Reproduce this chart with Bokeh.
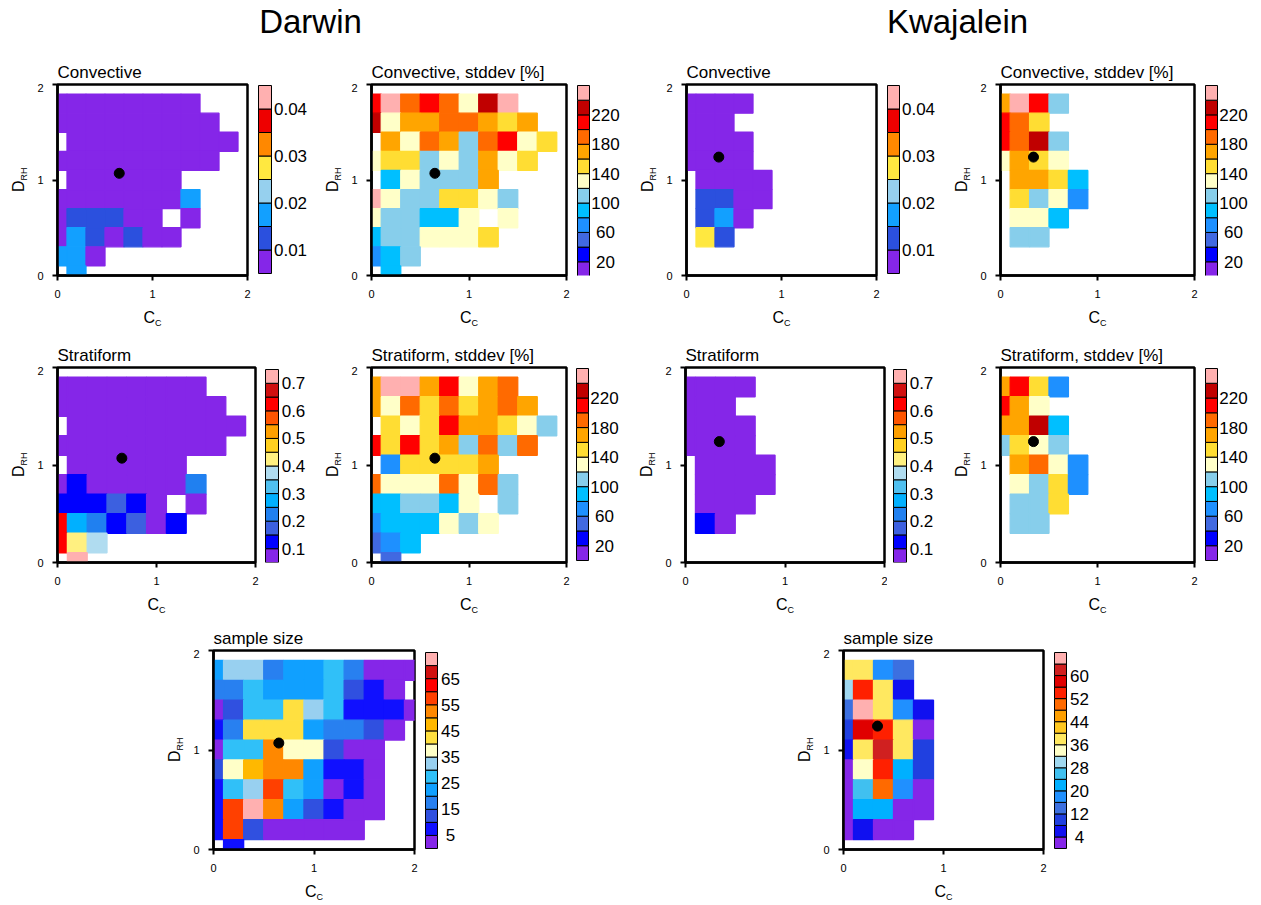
import numpy as np
from bokeh.plotting import figure
from bokeh.models import Range1d, FixedTicker
from bokeh.layouts import row, column
from bokeh.embed import file_html
from bokeh.resources import INLINE
from bokeh.core.properties import value

N = None
FONT = "Liberation Sans"
TOTAL_W = 1253

stations = ["Darwin", "Kwajalein"]
cc_centers = [0.0, 0.2, 0.4, 0.6, 0.8, 1.0, 1.2, 1.4, 1.6, 1.8, 2.0]
drh_centers = [1.8, 1.6, 1.4, 1.2, 1.0, 0.8, 0.6, 0.4, 0.2, 0.0]
axis_ticks = [0, 1, 2]

darwin_point = (0.65, 1.07)
kwaj_point = (0.34, 1.24)

# ---- contour levels / palettes / colorbar labels ----
conv_levels = [0.01, 0.015, 0.02, 0.025, 0.03, 0.035, 0.04]
conv_palette = ["#8526e8", "#2b50de", "#12a0ff", "#96d0ee", "#ffe840", "#ff8800", "#ee0000", "#ffb0b0"]
conv_tick_vals = [0.01, 0.02, 0.03, 0.04]
conv_tick_labels = ["0.01", "0.02", "0.03", "0.04"]

strat_levels = [0.1, 0.15, 0.2, 0.25, 0.3, 0.35, 0.4, 0.45, 0.5, 0.55, 0.6, 0.65, 0.7]
strat_palette = ["#8526e8", "#0000ff", "#3c60e0", "#2080f0", "#00b0ff", "#50c0f0", "#b0dcf0",
                 "#fff080", "#ffd020", "#ffa000", "#ff5500", "#ff0000", "#d01010", "#ffb0b0"]
strat_tick_vals = [0.1, 0.2, 0.3, 0.4, 0.5, 0.6, 0.7]
strat_tick_labels = ["0.1", "0.2", "0.3", "0.4", "0.5", "0.6", "0.7"]

sd_levels = [20, 40, 60, 80, 100, 120, 140, 160, 180, 200, 220, 240]
sd_palette = ["#8526e8", "#0000ff", "#4169e1", "#1e90ff", "#00bfff", "#87ceeb", "#ffffc8",
              "#ffdd33", "#ffa500", "#ff6a00", "#ff0000", "#c00000", "#ffb0b0"]
sd_tick_vals = [20, 60, 100, 140, 180, 220]
sd_tick_labels = ["20", "60", "100", "140", "180", "220"]

nd_levels = [5, 10, 15, 20, 25, 30, 35, 40, 45, 50, 55, 60, 65, 70]
nd_palette = ["#8526e8", "#1010ff", "#3050e0", "#2880f0", "#10a0ff", "#30c0f8", "#98d0f0", "#ffffc8",
              "#ffe040", "#ffb800", "#ff8800", "#ff4000", "#ff0000", "#d01010", "#ffb0b0"]
nd_tick_vals = [5, 15, 25, 35, 45, 55, 65]
nd_tick_labels = ["5", "15", "25", "35", "45", "55", "65"]

nk_levels = [4, 8, 12, 16, 20, 24, 28, 32, 36, 40, 44, 48, 52, 56, 60, 64]
nk_palette = ["#8526e8", "#1010f0", "#2040e0", "#3c70e0", "#2090ff", "#00b0ff", "#40c0f0", "#a0d8f0",
              "#ffffc8", "#ffe860", "#ffc820", "#ffa000", "#ff6a00", "#ff2000", "#e00000", "#d02020", "#ffb0b0"]
nk_tick_vals = [4, 12, 20, 28, 36, 44, 52, 60]
nk_tick_labels = ["4", "12", "20", "28", "36", "44", "52", "60"]

# ---- gridded values: rows D_RH = 1.8 ... 0.0, columns C_C = 0.0 ... 2.0 ----
darwin_conv = [
    [0.006, 0.005, 0.004, 0.004, 0.005, 0.005, 0.006, 0.007],
    [0.005, 0.004, 0.003, 0.003, 0.004, 0.004, 0.005, 0.006, 0.008],
    [N, 0.004, 0.003, 0.003, 0.003, 0.004, 0.005, 0.006, 0.007, 0.008],
    [0.006, 0.004, 0.003, 0.003, 0.003, 0.004, 0.005, 0.006, 0.008],
    [N, 0.005, 0.004, 0.004, 0.004, 0.005, 0.006],
    [0.007, 0.006, 0.005, 0.005, 0.006, 0.007, 0.008, 0.017],
    [0.008, 0.012, 0.011, 0.012, 0.008, 0.009, N, 0.009],
    [0.009, 0.017, 0.013, 0.009, 0.011, 0.009, 0.008],
    [0.016, 0.018, 0.009],
    [N, 0.019],
]
darwin_conv_sd = [
    [212, 246, 188, 207, 193, 131, 228, 251],
    [226, 128, 172, 168, 186, 191, 174, 152, 166],
    [N, 167, 133, 194, 171, 112, 187, 213, 127, 149],
    [136, 148, 153, 108, 129, 114, 172, 126, 151],
    [N, 93, 134, 112, 106, 117, 169],
    [244, 131, 115, 109, 152, 147, 128, 113],
    [127, 108, 116, 92, 88, 132, N, 129],
    [91, 114, 107, 126, 133, 128, 155],
    [73, 86, 112],
    [N, 94],
]
darwin_strat = [
    [0.05, 0.04, 0.03, 0.03, 0.04, 0.05, 0.06, 0.07],
    [0.04, 0.03, 0.03, 0.03, 0.03, 0.04, 0.05, 0.06, 0.08],
    [N, 0.03, 0.03, 0.02, 0.03, 0.03, 0.04, 0.05, 0.06, 0.08],
    [0.05, 0.03, 0.03, 0.03, 0.03, 0.04, 0.05, 0.06, 0.08],
    [N, 0.04, 0.04, 0.04, 0.05, 0.06, 0.07],
    [0.08, 0.12, 0.07, 0.06, 0.07, 0.08, 0.09, 0.22],
    [0.13, 0.12, 0.11, 0.17, 0.12, 0.09, N, 0.08],
    [0.62, 0.27, 0.22, 0.12, 0.17, 0.09, 0.13],
    [0.63, 0.42, 0.37],
    [N, 0.75],
]
darwin_strat_sd = [
    [171, 248, 252, 168, 211, 133, 174, 188],
    [166, 129, 192, 147, 186, 153, 172, 193, 165],
    [N, 151, 128, 146, 214, 176, 169, 154, 131, 109],
    [207, 149, 213, 152, 172, 113, 191, 112, 186],
    [N, 72, 148, 155, 151, 147, 171],
    [188, 127, 133, 129, 192, 131, 187, 108],
    [92, 87, 114, 106, 93, 126, N, 111],
    [74, 88, 91, 96, 132, 109, 128],
    [53, 71, 89],
    [N, 48],
]
darwin_n = [
    [22, 32, 33, 17, 23, 22, 27, 18, 3, 2, 1],
    [18, 17, 28, 22, 24, 21, 26, 12, 7, 4],
    [4, 13, 27, 28, 43, 31, 27, 8, 6, 7, 2],
    [8, 17, 42, 44, 41, 23, 17, 16, 13, 3],
    [3, 26, 28, 52, 38, 37, 12, 4, 3],
    [13, 37, 47, 53, 51, 22, 7, 8, 2],
    [6, 27, 32, 57, 28, 23, 4, 9, 3],
    [8, 57, 72, 52, 21, 13, 6, 4, 2],
    [7, 58, 12, 3, 4, 2, 3, 1],
    [N, 6],
]
kwaj_conv = [
    [0.005, 0.004, 0.005, 0.007],
    [0.004, 0.004, 0.006],
    [0.004, 0.003, 0.004, 0.006],
    [0.005, 0.003, 0.004, 0.006],
    [N, 0.004, 0.004, 0.005, 0.008],
    [N, 0.012, 0.011, 0.006, 0.008],
    [N, 0.013, 0.017, 0.008],
    [N, 0.027, 0.012],
    [],
    [],
]
kwaj_conv_sd = [
    [172, 247, 209, 113],
    [214, 188, 151],
    [206, 193, 232, 108],
    [133, 168, 147, 129],
    [N, 171, 166, 153, 91],
    [N, 149, 112, 132, 73],
    [N, 128, 134, 94],
    [N, 107, 113],
    [],
    [],
]
kwaj_strat = [
    [0.04, 0.03, 0.04, 0.06],
    [0.03, 0.03, 0.05],
    [0.03, 0.02, 0.03, 0.05],
    [0.04, 0.02, 0.03, 0.05],
    [N, 0.03, 0.03, 0.04, 0.07],
    [N, 0.04, 0.04, 0.05, 0.08],
    [N, 0.06, 0.05, 0.07],
    [N, 0.12, 0.08],
    [],
    [],
]
kwaj_strat_sd = [
    [168, 212, 149, 71],
    [208, 173, 129],
    [166, 174, 233, 92],
    [113, 152, 134, 108],
    [N, 169, 191, 127, 68],
    [N, 132, 111, 148, 73],
    [N, 108, 114, 153],
    [N, 112, 106],
    [],
    [],
]
kwaj_n = [
    [38, 39, 18, 14],
    [30, 54, 37, 6],
    [14, 66, 38, 18, 6],
    [10, 58, 54, 38, 2],
    [6, 39, 62, 37, 10],
    [2, 34, 55, 22, 11],
    [3, 26, 50, 18, 2],
    [2, 22, 23, 2, 3],
    [1, 6, 2, 2],
    [],
]


def pad(grid):
    ncol = len(cc_centers)
    return [list(r) + [N] * (ncol - len(r)) for r in grid]


def blank_fig(x_range, y_range, width, height, top=0, bottom=0):
    p = figure(width=width, height=height, x_range=x_range, y_range=y_range,
               output_backend="svg", toolbar_location=None,
               x_axis_location=None, y_axis_location=None,
               min_border_left=0, min_border_right=0,
               min_border_top=top, min_border_bottom=bottom,
               outline_line_color=None, background_fill_color="white", border_fill_color="white")
    p.grid.visible = False
    return p


def heatmap(grid, levels, palette, point, fig_x, frame_x, row_y, frame_y):
    p = figure(width=fig_x[1] - fig_x[0], height=row_y[1] - row_y[0],
               x_range=Range1d(0, 2), y_range=Range1d(0, 2),
               output_backend="svg", toolbar_location=None,
               min_border_left=frame_x[0] - fig_x[0], min_border_right=fig_x[1] - frame_x[1],
               min_border_top=frame_y[0] - row_y[0], min_border_bottom=row_y[1] - frame_y[1],
               background_fill_color="white", border_fill_color="white")
    arr = np.array(pad(grid), dtype=float)
    xs, ys, vs = [], [], []
    for i, yv in enumerate(drh_centers):
        for j, xv in enumerate(cc_centers):
            if not np.isnan(arr[i, j]):
                xs.append(xv)
                ys.append(yv)
                vs.append(arr[i, j])
    idx = np.digitize(vs, levels)
    cols = [palette[k] for k in idx]
    p.rect(x=xs, y=ys, width=0.2, height=0.2, fill_color=cols, line_color=cols, line_width=1.3)
    p.scatter(x=[point[0]], y=[point[1]], size=10, fill_color="black", line_color="black")

    p.grid.visible = False
    p.outline_line_color = "black"
    p.outline_line_width = 2.5
    p.outline_line_alpha = 1.0
    p.xaxis.ticker = FixedTicker(ticks=axis_ticks)
    p.yaxis.ticker = FixedTicker(ticks=axis_ticks)
    for ax in (p.xaxis[0], p.yaxis[0]):
        ax.major_tick_in = 0
        ax.major_tick_out = 5
        ax.major_tick_line_width = 2
        ax.minor_tick_line_color = None
        ax.axis_line_width = 2.5
        ax.major_label_text_font_size = "11px"
        ax.major_label_text_font = FONT
        ax.major_label_text_color = "black"
        ax.major_label_standoff = 9
    return p


def colorbar(levels, palette, tick_vals, tick_labels, fig_x, bar_x, row_y, frame_y, bar_y, dx):
    # the frame of this figure spans frame_y (same as the heatmaps of the row)
    step = levels[1] - levels[0]
    edges = np.array([levels[0] - step] + list(levels) + [levels[-1] + step], dtype=float)
    k = (edges[-1] - edges[0]) / (bar_y[1] - bar_y[0])
    yr = Range1d(edges[0] - (frame_y[1] - bar_y[1]) * k, edges[-1] + (bar_y[0] - frame_y[0]) * k)
    bw = bar_x[1] - bar_x[0]
    xr = Range1d(fig_x[0] - bar_x[0], fig_x[1] - bar_x[0])
    p = blank_fig(xr, yr, fig_x[1] - fig_x[0], row_y[1] - row_y[0],
                  top=frame_y[0] - row_y[0], bottom=row_y[1] - frame_y[1])
    p.quad(left=0, right=bw, bottom=edges[:-1], top=edges[1:], fill_color=palette,
           line_color="black", line_width=1)
    p.text(x=[bw + dx] * len(tick_vals), y=tick_vals, text=tick_labels,
           text_align="center", text_baseline="middle", text_color="black",
           text_font=value(FONT), text_font_size="17px")
    return p


def ylabel_strip(fig_x, row_y, frame_x, frame_y):
    # page-pixel coordinates (y downward) over the row's frame band
    p = blank_fig(Range1d(fig_x[0], fig_x[1]), Range1d(frame_y[1], frame_y[0]),
                  fig_x[1] - fig_x[0], row_y[1] - row_y[0],
                  top=frame_y[0] - row_y[0], bottom=row_y[1] - frame_y[1])
    yc = 0.5 * (frame_y[0] + frame_y[1])
    p.text(x=[frame_x[0] - 39.5], y=[yc + 12], text=["D"], angle=np.pi / 2,
           text_align="left", text_baseline="middle", text_color="black",
           text_font=value(FONT), text_font_size="16px")
    p.text(x=[frame_x[0] - 33.5], y=[yc + 0.5], text=["RH"], angle=np.pi / 2,
           text_align="left", text_baseline="middle", text_color="black",
           text_font=value(FONT), text_font_size="9px")
    return p


def text_strip(y0, y1, items):
    p = blank_fig(Range1d(0, TOTAL_W), Range1d(y1, y0), TOTAL_W, y1 - y0)
    for (x, y, txt, size, align) in items:
        p.text(x=[x], y=[y], text=[txt], text_align=align, text_baseline="middle",
               text_color="black", text_font=value(FONT), text_font_size=size)
    return p


def xlabel_items(panels, frame_y):
    items = []
    for pn in panels:
        xc = 0.5 * (pn["frame_x"][0] + pn["frame_x"][1])
        yb = frame_y[1]
        items.append((xc - 9, yb + 41.5, "C", "16px", "left"))
        items.append((xc + 2.5, yb + 47, "C", "9px", "left"))
    return items


def title_items(panels, frame_y):
    return [(pn["frame_x"][0], frame_y[0] - 12.5, pn["title"], "17px", "left") for pn in panels]


def build_row(panels, row_y, frame_y, start_x=0):
    children = []
    cur = start_x
    for pn in panels:
        fx0, fx1 = pn["frame_x"]
        bx0, bx1 = pn["bar_x"]
        hx0, hx1 = fx0 - 24, bx0 - 6
        children.append(ylabel_strip((cur, hx0), row_y, pn["frame_x"], frame_y))
        children.append(heatmap(pn["grid"], pn["levels"], pn["palette"], pn["point"],
                                (hx0, hx1), pn["frame_x"], row_y, frame_y))
        children.append(colorbar(pn["levels"], pn["palette"], pn["tick_vals"], pn["tick_labels"],
                                 (hx1, pn["cb_end"]), pn["bar_x"], row_y, frame_y,
                                 pn["bar_y"], pn["dx"]))
        cur = pn["cb_end"]
    return row(*children)


row1 = [
    dict(grid=darwin_conv, levels=conv_levels, palette=conv_palette, title="Convective",
         point=darwin_point, tick_vals=conv_tick_vals, tick_labels=conv_tick_labels, dx=19,
         frame_x=(57, 247), bar_x=(258, 271), bar_y=(85, 273), cb_end=318),
    dict(grid=darwin_conv_sd, levels=sd_levels, palette=sd_palette, title="Convective, stddev [%]",
         point=darwin_point, tick_vals=sd_tick_vals, tick_labels=sd_tick_labels, dx=16,
         frame_x=(371, 566), bar_x=(577, 589), bar_y=(85, 276), cb_end=636),
    dict(grid=kwaj_conv, levels=conv_levels, palette=conv_palette, title="Convective",
         point=kwaj_point, tick_vals=conv_tick_vals, tick_labels=conv_tick_labels, dx=19,
         frame_x=(686, 876), bar_x=(887, 899), bar_y=(85, 273), cb_end=946),
    dict(grid=kwaj_conv_sd, levels=sd_levels, palette=sd_palette, title="Convective, stddev [%]",
         point=kwaj_point, tick_vals=sd_tick_vals, tick_labels=sd_tick_labels, dx=16,
         frame_x=(1000, 1194), bar_x=(1205, 1217), bar_y=(85, 276), cb_end=1253),
]
row2 = [
    dict(grid=darwin_strat, levels=strat_levels, palette=strat_palette, title="Stratiform",
         point=darwin_point, tick_vals=strat_tick_vals, tick_labels=strat_tick_labels, dx=15,
         frame_x=(57, 255), bar_x=(265, 278), bar_y=(369, 562), cb_end=318),
    dict(grid=darwin_strat_sd, levels=sd_levels, palette=sd_palette, title="Stratiform, stddev [%]",
         point=darwin_point, tick_vals=sd_tick_vals, tick_labels=sd_tick_labels, dx=16,
         frame_x=(371, 566), bar_x=(576, 588), bar_y=(368, 560), cb_end=636),
    dict(grid=kwaj_strat, levels=strat_levels, palette=strat_palette, title="Stratiform",
         point=kwaj_point, tick_vals=strat_tick_vals, tick_labels=strat_tick_labels, dx=15,
         frame_x=(685, 884), bar_x=(893, 906), bar_y=(369, 562), cb_end=946),
    dict(grid=kwaj_strat_sd, levels=sd_levels, palette=sd_palette, title="Stratiform, stddev [%]",
         point=kwaj_point, tick_vals=sd_tick_vals, tick_labels=sd_tick_labels, dx=16,
         frame_x=(1000, 1194), bar_x=(1205, 1217), bar_y=(368, 560), cb_end=1253),
]
row3 = [
    dict(grid=darwin_n, levels=nd_levels, palette=nd_palette, title="sample size",
         point=darwin_point, tick_vals=nd_tick_vals, tick_labels=nd_tick_labels, dx=13,
         frame_x=(213, 414), bar_x=(425, 437), bar_y=(652, 848), cb_end=485),
    dict(grid=kwaj_n, levels=nk_levels, palette=nk_palette, title="sample size",
         point=kwaj_point, tick_vals=nk_tick_vals, tick_labels=nk_tick_labels, dx=13,
         frame_x=(843, 1043), bar_x=(1054, 1066), bar_y=(652, 848), cb_end=1110),
]

R1, F1 = (83, 308), (84, 275)
R2, F2 = (366, 594), (367, 562)
R3, F3 = (649, 879), (650, 849)

top = text_strip(0, R1[0],
                 [(310, 21, stations[0], "33px", "center"),
                  (957, 21, stations[1], "33px", "center")] + title_items(row1, F1))
s1 = text_strip(R1[1], R2[0], xlabel_items(row1, F1) + title_items(row2, F2))
s2 = text_strip(R2[1], R3[0], xlabel_items(row2, F2) + title_items(row3, F3))
s3 = text_strip(R3[1], 903, xlabel_items(row3, F3))

layout = column(
    top,
    build_row(row1, R1, F1),
    s1,
    build_row(row2, R2, F2),
    s2,
    build_row(row3, R3, F3),
    s3,
)

open("out.html", "w").write(file_html(layout, INLINE))
